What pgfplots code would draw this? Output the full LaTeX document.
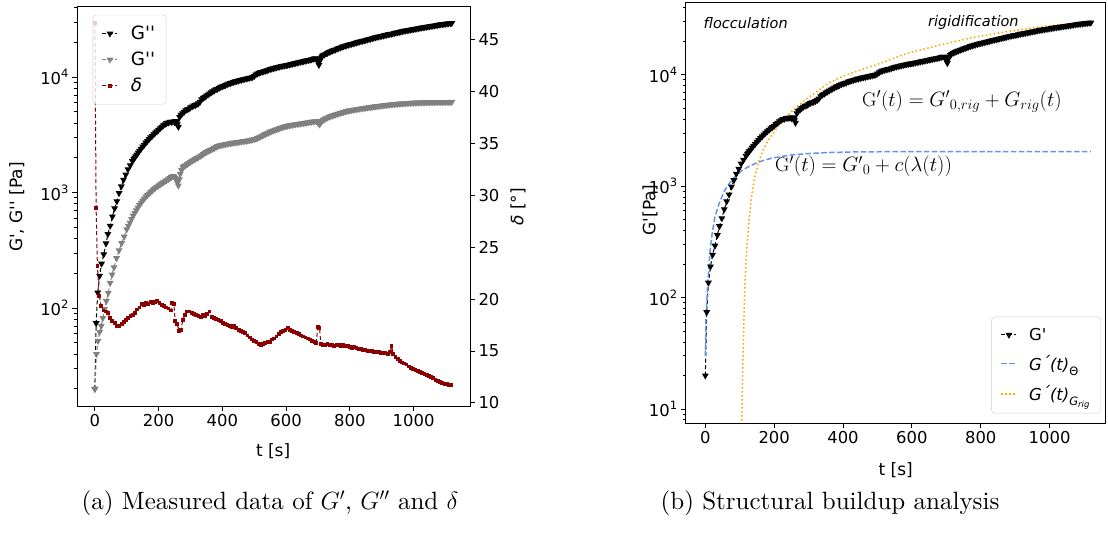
\documentclass[border=0pt]{standalone}
\usepackage{fontspec}
\usepackage{pgfplots}
\usepackage{pgfplotstable}
\pgfplotsset{compat=1.18}
\newfontfamily\dv{DejaVu Sans}[Ligatures=TeXOff]
\newfontfamily\lmten{lmroman10-regular.otf}
\newcommand{\tf}{\dv\fontsize{16.4}{19}\selectfont}
\newcommand{\lf}{\dv\fontsize{17}{20}\selectfont}
\newcommand{\sexp}[1]{10\raisebox{0.42em}{\fontsize{11.5}{12}\selectfont #1}}
\definecolor{mgrey}{HTML}{808080}
\definecolor{dred}{HTML}{8B0000}
\definecolor{cblue}{HTML}{6495ED}
\definecolor{morange}{HTML}{FFA500}
\definecolor{lgray}{HTML}{CCCCCC}

\pgfplotstableread{
t G
0 20
4 74
9 136
15 190
21 242
28 292
35 363
41 437
48 515
55 620
62 730
69 840
76 990
83 1130
90 1290
97 1430
104 1590
111 1720
118 1870
122 1950
125 2000
128 2060
132 2130
136 2220
140 2300
145 2390
150 2500
155 2590
160 2700
165 2790
170 2900
175 3000
180 3100
185 3190
190 3300
195 3380
200 3480
205 3600
210 3700
215 3820
220 3900
225 3990
230 4020
235 4100
240 4080
245 4120
250 4060
253 4150
256 4100
259 3900
262 3700
266 4500
270 4700
275 4850
280 5000
285 5150
290 5250
295 5300
300 5450
305 5550
310 5650
315 5700
320 5800
325 5900
330 6100
335 6400
340 6600
345 6700
350 6900
355 7050
360 7200
365 7350
370 7500
375 7650
380 7800
385 7900
390 8050
395 8200
400 8300
405 8400
410 8500
415 8650
420 8750
425 8850
430 8950
435 9050
440 9150
445 9200
450 9300
455 9400
460 9450
465 9550
470 9600
475 9700
480 9750
485 9850
490 9900
495 10000
500 10200
505 10500
510 10700
515 10850
520 11000
525 11100
530 11200
535 11300
540 11400
545 11550
550 11700
555 11800
560 11900
565 12000
570 12100
575 12200
580 12300
585 12400
590 12500
595 12550
600 12600
605 12700
610 12800
615 12900
620 13000
625 13100
630 13200
635 13300
640 13400
645 13500
650 13600
655 13700
660 13800
665 13900
670 14000
675 14100
680 14200
685 14350
690 14500
694 14400
697 14300
700 13500
703 12700
706 13800
708 14500
712 15000
715 15400
720 15650
725 15900
730 16150
735 16400
740 16650
745 16900
750 17100
755 17300
760 17550
765 17800
770 18000
775 18200
780 18400
785 18600
790 18800
795 19000
800 19150
805 19300
810 19500
815 19700
820 19850
825 20000
830 20200
835 20400
840 20550
845 20700
850 20900
855 21100
860 21250
865 21400
870 21600
875 21800
880 22000
885 22200
890 22350
895 22500
900 22650
905 22800
910 23000
915 23200
920 23350
925 23500
930 23650
935 23800
940 24000
945 24200
950 24350
955 24500
960 24700
965 24900
970 25050
975 25200
980 25350
985 25500
990 25650
995 25800
1000 25950
1005 26100
1010 26250
1015 26400
1020 26550
1025 26700
1030 26850
1035 27000
1040 27150
1045 27300
1050 27450
1055 27600
1060 27750
1065 27900
1070 28050
1075 28200
1080 28350
1085 28500
1090 28600
1095 28700
1100 28850
1105 29000
1110 29100
1115 29200
1120 29300
}\gprime

\pgfplotstableread{
t G
0 20
5 40
10 52
15 62
20 70
25 82
30 98
36 115
42 135
48 165
54 195
60 225
68 270
76 316
84 365
92 415
100 480
105 515
110 550
115 590
120 630
125 665
130 700
135 740
140 780
145 815
150 850
155 885
160 920
165 950
170 980
175 1010
180 1040
185 1070
190 1100
195 1125
200 1150
205 1175
210 1200
215 1225
220 1250
225 1275
230 1300
235 1330
240 1360
244 1390
248 1380
252 1340
255 1300
259 1220
262 1150
265 1300
268 1450
272 1560
276 1650
280 1690
285 1720
290 1760
295 1800
300 1840
305 1880
310 1915
315 1950
320 1985
325 2020
330 2060
335 2100
340 2150
345 2200
350 2240
355 2280
360 2315
365 2350
370 2390
375 2430
380 2475
385 2520
390 2545
395 2570
400 2585
405 2600
410 2620
415 2640
420 2655
425 2670
430 2685
435 2700
440 2710
445 2720
450 2735
455 2750
460 2765
465 2780
470 2790
475 2800
480 2815
485 2830
490 2850
495 2870
500 2895
505 2920
510 2960
515 3000
520 3050
525 3100
530 3150
535 3200
540 3250
545 3300
550 3350
555 3400
560 3440
565 3480
570 3520
575 3560
580 3605
585 3650
590 3685
595 3720
600 3750
605 3780
610 3805
615 3830
620 3855
625 3880
630 3900
635 3920
640 3935
645 3950
650 3970
655 3990
660 4010
665 4030
670 4055
675 4080
680 4100
685 4120
690 4140
695 4160
700 4000
705 3880
708 4000
712 4150
716 4230
720 4300
725 4375
730 4450
735 4515
740 4580
745 4630
750 4680
755 4730
760 4780
765 4830
770 4880
775 4920
780 4960
785 5010
790 5060
795 5100
800 5140
805 5170
810 5200
815 5230
820 5260
825 5285
830 5310
835 5335
840 5360
845 5385
850 5410
855 5435
860 5460
865 5485
870 5510
875 5535
880 5560
885 5585
890 5610
895 5635
900 5660
905 5680
910 5700
915 5720
920 5740
925 5760
930 5780
935 5800
940 5820
945 5840
950 5860
955 5870
960 5880
965 5895
970 5910
975 5925
980 5940
985 5950
990 5960
995 5970
1000 5980
1005 5990
1010 6000
1015 6005
1020 6010
1025 6015
1030 6020
1035 6025
1040 6030
1045 6035
1050 6040
1055 6045
1060 6050
1065 6052
1070 6055
1075 6058
1080 6060
1085 6062
1090 6065
1095 6068
1100 6070
1105 6072
1110 6075
1115 6078
1120 6080
}\gdprime

\pgfplotstableread{
t d
0 46.6
4 28.8
8 23.2
14 20.3
20 19.3
27 18.9
34 18.8
41 18.7
48 18.2
55 17.9
62 17.7
70 17.4
77 17.4
84 17.6
91 17.8
98 18.0
105 18.2
112 18.4
119 18.5
126 18.7
133 19.0
140 19.2
147 19.5
154 19.4
161 19.6
168 19.5
175 19.7
182 19.6
189 19.7
196 19.8
203 19.6
210 19.4
217 19.3
224 19.2
231 19.1
238 18.9
243 19.6
248 19.5
252 17.9
258 17.6
265 16.9
270 17.0
276 18.0
283 18.5
290 18.8
297 18.8
304 18.7
311 18.6
318 18.5
325 18.4
332 18.3
339 18.5
346 18.4
353 18.6
360 18.8
367 18.3
374 18.2
381 18.1
388 18.0
395 17.9
402 17.7
409 17.6
416 17.5
423 17.4
430 17.3
437 17.4
444 17.2
451 17.0
458 16.9
465 16.8
472 16.7
479 16.5
486 16.3
493 16.1
500 16.0
507 15.9
514 15.7
521 15.6
528 15.7
535 15.8
542 15.9
549 15.9
556 16.1
563 16.2
570 16.4
577 16.6
584 16.8
591 16.9
598 17.0
605 17.2
612 17.0
619 16.9
626 16.8
633 16.7
640 16.6
647 16.5
654 16.4
661 16.3
668 16.2
675 16.1
682 16.0
689 15.9
695 15.8
699 17.3
705 17.2
709 15.7
716 15.6
723 15.6
730 15.7
737 15.6
744 15.6
751 15.5
758 15.6
765 15.6
772 15.5
779 15.6
786 15.5
793 15.5
800 15.4
807 15.3
814 15.4
821 15.3
828 15.2
835 15.2
842 15.1
849 15.1
856 15.0
863 15.0
870 15.0
877 14.9
884 14.9
891 14.9
898 14.8
905 14.8
912 14.8
919 14.7
926 14.9
931 15.5
936 14.7
943 14.4
950 14.2
957 14.0
964 13.9
971 13.8
978 13.7
985 13.5
992 13.4
999 13.3
1006 13.2
1013 13.1
1020 13.0
1027 12.9
1034 12.8
1041 12.7
1048 12.6
1055 12.5
1062 12.4
1069 12.2
1076 12.1
1083 12.0
1090 11.9
1097 11.8
1104 11.8
1111 11.7
1118 11.7
}\deltatab

\pgfplotstableread{
t G
0 30
2 67
7 135
14 268
20 380
28 532
40 700
57 925
70 1060
86 1216
105 1370
125 1496
150 1620
173 1718
200 1800
251 1905
300 1960
350 2000
425 2025
500 2035
600 2040
800 2040
1000 2040
1120 2040
}\gtheta

\pgfplotstableread{
t G
104 1
106 8
108 18
110 34
112 62
115 135
119 230
123 352
128 530
133 752
138 960
144 1216
156 1700
168 2112
182 2550
197 2980
215 3550
236 4200
260 5000
290 5930
320 6900
357 8380
400 9700
450 11000
500 12400
585 15500
681 18450
778 21600
875 24300
972 26900
1069 28900
1122 30300
}\grig

\begin{document}
\begin{tikzpicture}
\useasboundingbox (0pt,0pt) rectangle (1108pt,545pt);
\pgfplotsset{
  mpl/.style={
    scale only axis, anchor=south west,
    tick align=outside,
    axis line style={line width=0.9pt},
    major tick length=5pt, minor tick length=2.8pt,
    tick style={black, line width=0.8pt},
    ticklabel style={font=\tf},
    label style={font=\lf},
    legend style={font=\tf, draw=lgray, rounded corners=3pt, fill=white, fill opacity=0.8, text opacity=1, cells={anchor=west}, inner xsep=5pt, inner ysep=4pt,
      /tikz/every odd column/.append style={column sep=7pt}},
    legend image code/.code={\draw[mark repeat=2,mark phase=2,##1] plot coordinates {(0pt,0pt) (7.5pt,0pt) (15pt,0pt)};},
  },
  gp/.style={black, line width=1pt, dash pattern=on 4pt off 2.5pt, mark=triangle*, mark size=3pt, mark options={rotate=180, solid}},
  gpp/.style={mgrey, line width=1pt, dash pattern=on 4pt off 2.5pt, mark=triangle*, mark size=3pt, mark options={rotate=180, solid}},
  dl/.style={dred, line width=1pt, dash pattern=on 4pt off 2.5pt, mark=square*, mark size=1.4pt, mark options={solid}},
}
% ---------- left: G', G'' ----------
\begin{axis}[mpl, at={(77pt,139pt)}, width=393pt, height=400pt,
  ymode=log, xmin=-56, xmax=1177, ymin=14.2, ymax=41200,
  tick pos=left,
  xtick={0,200,400,600,800,1000}, xticklabels={0,200,400,600,800,1000},
  ytick={100,1000,10000}, yticklabels={\sexp{2},\sexp{3},\sexp{4}},
  minor ytick={20,30,40,50,60,70,80,90,200,300,400,500,600,700,800,900,2000,3000,4000,5000,6000,7000,8000,9000,20000,30000,40000},
  xlabel={t [s]}, ylabel={G', G'' [Pa]},
  xlabel style={at={(axis description cs:0.499,-0.114)}, anchor=center},
  ylabel style={at={(axis description cs:-0.153,0.4975)}, anchor=center, rotate=0},
]
\addplot[gp] table[x=t,y=G] {\gprime};
\addplot[gpp] table[x=t,y=G] {\gdprime};
\end{axis}
% ---------- left twin: delta ----------
\begin{axis}[mpl, at={(77pt,139pt)}, width=393pt, height=400pt,
  xmin=-56, xmax=1177, ymin=9.7, ymax=48.25,
  axis x line=none, axis y line*=right,
  ytick={10,15,20,25,30,35,40,45}, yticklabels={10,15,20,25,30,35,40,45},
  ylabel={{\itshape δ} [°]},
  ylabel style={at={(axis description cs:1.122,0.4975)}, anchor=center, rotate=0},
  legend style={at={(0.04,0.978)}, anchor=north west, row sep=7pt, inner xsep=9pt, inner ysep=9pt,
    /tikz/every odd column/.append style={column sep=11pt},
    font=\dv\fontsize{18.3}{21}\selectfont},
]
\addlegendimage{gp}
\addlegendentry{G''}
\addlegendimage{gpp}
\addlegendentry{G''}
\addplot[dl] table[x=t,y=d] {\deltatab};
\addlegendentry{{\itshape δ}}
\end{axis}
% ---------- right: structural buildup ----------
\begin{axis}[mpl, at={(685.7pt,122pt)}, width=420pt, height=421pt,
  ymode=log, xmin=-57, xmax=1163, ymin=7.5, ymax=44900,
  tick pos=left,
  xtick={0,200,400,600,800,1000}, xticklabels={0,200,400,600,800,1000},
  ytick={10,100,1000,10000}, yticklabels={\sexp{1},\sexp{2},\sexp{3},\sexp{4}},
  minor ytick={8,9,20,30,40,50,60,70,80,90,200,300,400,500,600,700,800,900,2000,3000,4000,5000,6000,7000,8000,9000,20000,30000,40000},
  xlabel={t [s]}, ylabel={G'[Pa]},
  xlabel style={at={(axis description cs:0.5,-0.112)}, anchor=center},
  ylabel style={at={(axis description cs:-0.085,0.506)}, anchor=center, rotate=0},
  legend style={at={(0.988,0.023)}, anchor=south east, row sep=10pt, inner xsep=9pt, inner ysep=9pt,
    /tikz/every odd column/.append style={column sep=10pt}},
]
\addplot[gp] table[x=t,y=G] {\gprime};
\addlegendentry{G'}
\addplot[cblue, line width=1.5pt, dash pattern=on 5.5pt off 2.4pt] table[x=t,y=G] {\gtheta};
\addlegendentry{{\itshape G\raisebox{0.1em}{´}(t)}\raisebox{-0.3em}{\fontsize{11.5}{12}\selectfont Θ}}
\addplot[morange, line width=1.5pt, dash pattern=on 1.5pt off 2.5pt] table[x=t,y=G] {\grig};
\addlegendentry{{\itshape G\raisebox{0.1em}{´}(t)}\raisebox{-0.3em}{\fontsize{11.5}{12}\selectfont\itshape G\raisebox{-0.2em}{\fontsize{8.5}{9}\selectfont rig}}}
\node[anchor=west, font=\dv\itshape\fontsize{14.5}{16}\selectfont] at (axis cs:-15,29200) {flocculation};
\node[anchor=west, font=\dv\itshape\fontsize{14.5}{16}\selectfont] at (axis cs:637,29200) {rigidification};
\node[anchor=west, font=\fontsize{19.8}{23}\selectfont, inner sep=0pt] at (axis cs:455,5730) {$\mathrm{G}'(t) = {G'}_{0,rig} + G_{rig}(t)$};
\node[anchor=west, font=\fontsize{19.8}{23}\selectfont, inner sep=0pt] at (axis cs:202,1496) {$\mathrm{G}'(t) = {G'}_{0} + c(\lambda(t))$};
\end{axis}
% ---------- captions ----------
\node[font=\lmten\fontsize{25}{30}\selectfont] at (270pt,42pt) {(a) Measured data of $G'$, $G''$ and $\delta$};
\node[font=\lmten\fontsize{25}{30}\selectfont] at (830pt,42pt) {(b) Structural buildup analysis};
\end{tikzpicture}
\end{document}
